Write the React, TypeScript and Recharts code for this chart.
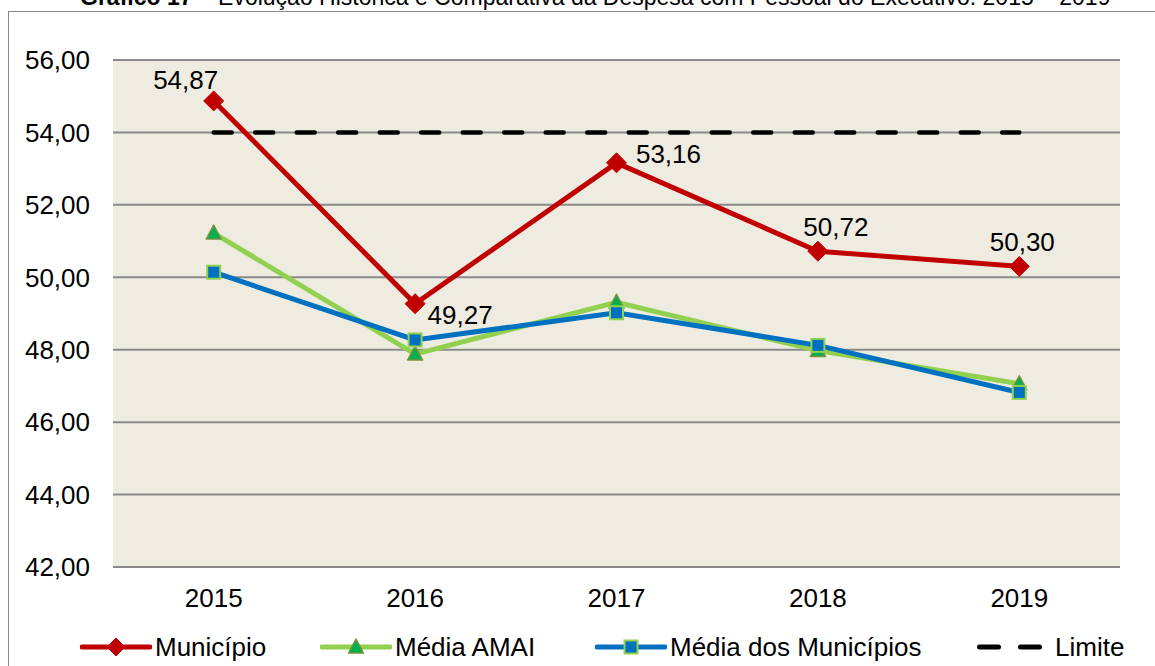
import React from 'react';
import { LineChart, Line, XAxis, YAxis, CartesianGrid, Legend, LabelList } from 'recharts';

const years = ['2015', '2016', '2017', '2018', '2019'];
const municipio = [54.87, 49.27, 53.16, 50.72, 50.3];
const mediaAmai = [51.22, 47.88, 49.31, 47.98, 47.06];
const mediaMunicipios = [50.14, 48.27, 49.02, 48.12, 46.82];
const limite = [54, 54, 54, 54, 54];
const yTicks = [42, 44, 46, 48, 50, 52, 54, 56];

const data = years.map((y, i) => ({
  year: y,
  municipio: municipio[i],
  mediaAmai: mediaAmai[i],
  mediaMunicipios: mediaMunicipios[i],
  limite: limite[i],
}));

const FONT = '"Liberation Sans", Arial, sans-serif';
const FS = 26;
const RED = '#C00000';
const GREEN = '#92D050';
const BLUE = '#0070C0';
const TRI_FILL = '#00B050';
const TRI_STROKE = '#77933C';

const labelOffsets = [
  [-28, -21],
  [45, 11],
  [52, -9],
  [18, -24],
  [3, -24],
];

const fmt = (v: number) => v.toFixed(2).replace('.', ',');

const Diamond = ({ cx, cy, s = 10 }: any) => (
  <path d={`M${cx},${cy - s} L${cx + s},${cy} L${cx},${cy + s} L${cx - s},${cy} Z`} fill={RED} stroke={RED} strokeWidth={1} />
);
const Triangle = ({ cx, cy }: any) => (
  <path d={`M${cx},${cy - 8} L${cx + 7.5},${cy + 6} L${cx - 7.5},${cy + 6} Z`} fill={TRI_FILL} stroke={TRI_STROKE} strokeWidth={1.5} strokeLinejoin="round" />
);
const Square = ({ cx, cy }: any) => (
  <rect x={cx - 6.5} y={cy - 6.5} width={13} height={13} fill={BLUE} stroke={GREEN} strokeWidth={2} />
);

const renderLabel = (props: any) => {
  const { x, y, value, index } = props;
  const [dx, dy] = labelOffsets[index] || [0, -20];
  return (
    <text key={`lbl-${index}`} x={x + dx} y={y + dy} textAnchor="middle" dominantBaseline="central" fontSize={FS} fontFamily={FONT} fill="#000">
      {fmt(value)}
    </text>
  );
};

const legendItems = [
  { name: 'Município', left: 80, kind: 'mun', w: 72, gap: 3 },
  { name: 'Média AMAI', left: 320, kind: 'amai', w: 72, gap: 3 },
  { name: 'Média dos Municípios', left: 595, kind: 'med', w: 72, gap: 3 },
  { name: 'Limite', left: 960, kind: 'lim', w: 95, gap: 0 },
];

const LegendContent = () => (
  <div style={{ position: 'relative', width: 1155, height: 30, fontFamily: FONT, fontSize: FS, color: '#000' }}>
    {legendItems.map((it) => (
      <div key={it.name} style={{ position: 'absolute', left: it.left, top: 0, height: 30, display: 'flex', alignItems: 'center', whiteSpace: 'nowrap' }}>
        <svg width={it.w} height={30} style={{ display: 'block' }}>
          {it.kind === 'lim' ? (
            <g>
              <line x1={19.5} y1={15} x2={38.5} y2={15} stroke="#000" strokeWidth={5} strokeLinecap="round" />
              <line x1={60.5} y1={15} x2={79.5} y2={15} stroke="#000" strokeWidth={5} strokeLinecap="round" />
            </g>
          ) : (
            <g>
              <line x1={2} y1={15} x2={70} y2={15} stroke={it.kind === 'mun' ? RED : it.kind === 'amai' ? GREEN : BLUE} strokeWidth={5} strokeLinecap="round" />
              {it.kind === 'mun' && <Diamond cx={36} cy={15} s={9} />}
              {it.kind === 'amai' && <Triangle cx={36} cy={15} />}
              {it.kind === 'med' && <Square cx={36} cy={15} />}
            </g>
          )}
        </svg>
        <span style={{ marginLeft: it.gap }}>{it.name}</span>
      </div>
    ))}
  </div>
);

export default function App() {
  return (
    <div style={{ position: 'absolute', left: 0, top: 0, width: 1155, height: 666, overflow: 'hidden', background: '#fff', fontFamily: FONT }}>
      <div style={{ position: 'absolute', left: 80, top: -14, fontSize: 23, lineHeight: '23px', whiteSpace: 'nowrap', color: '#000' }}>
        <b>Gráfico 17</b> – Evolução Histórica e Comparativa da Despesa com Pessoal do Executivo: 2015 – 2019
      </div>
      <div style={{ position: 'absolute', left: 8, top: 11, width: 1200, height: 700, border: '1.5px solid #8a8a8a' }} />
      <div style={{ position: 'absolute', left: 0, top: 0 }}>
        <LineChart width={1155} height={666} data={data} margin={{ top: 60, right: 35, left: 13, bottom: 29 }}>
          <CartesianGrid vertical={false} stroke="#8a8a8a" strokeWidth={2} fill="#EEECE1" fillOpacity={1} />
          <XAxis
            dataKey="year"
            scale="band"
            height={40}
            tickLine={false}
            axisLine={{ stroke: '#8a8a8a', strokeWidth: 2 }}
            tickSize={0}
            tickMargin={22}
            tick={{ fontSize: FS, fontFamily: FONT, fill: '#000' }}
          />
          <YAxis
            width={100}
            domain={[42, 56]}
            ticks={yTicks}
            interval={0}
            tickFormatter={fmt}
            tickLine={false}
            axisLine={false}
            tickSize={0}
            tickMargin={23}
            tick={{ fontSize: FS, fontFamily: FONT, fill: '#000' }}
          />
          <Legend verticalAlign="bottom" content={<LegendContent />} wrapperStyle={{ top: 632, left: 0, width: 1155, height: 30 }} />
          <Line dataKey="limite" name="Limite" stroke="#000" strokeWidth={4.5} strokeDasharray="18 23.5" strokeLinecap="round" dot={false} activeDot={false} isAnimationActive={false} />
          <Line dataKey="municipio" name="Município" stroke={RED} strokeWidth={5} dot={(p: any) => <Diamond key={`d-${p.index}`} cx={p.cx} cy={p.cy} s={10} />} activeDot={false} isAnimationActive={false}>
            <LabelList dataKey="municipio" content={renderLabel} />
          </Line>
          <Line dataKey="mediaAmai" name="Média AMAI" stroke={GREEN} strokeWidth={5} dot={(p: any) => <Triangle key={`t-${p.index}`} cx={p.cx} cy={p.cy} />} activeDot={false} isAnimationActive={false} />
          <Line dataKey="mediaMunicipios" name="Média dos Municípios" stroke={BLUE} strokeWidth={5} dot={(p: any) => <Square key={`s-${p.index}`} cx={p.cx} cy={p.cy} />} activeDot={false} isAnimationActive={false} />
        </LineChart>
      </div>
    </div>
  );
}
